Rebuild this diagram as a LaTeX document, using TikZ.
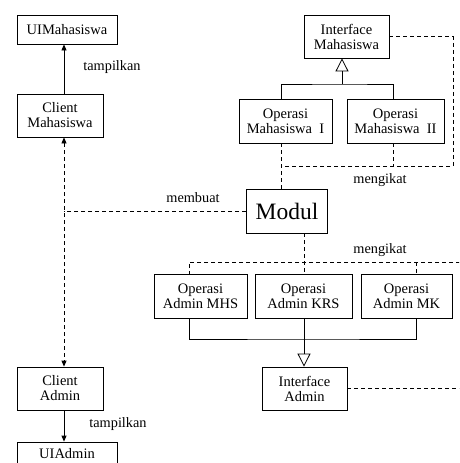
\documentclass[tikz,border=0pt]{standalone}
\usepackage{fontspec}
\setmainfont{Liberation Serif}
\usetikzlibrary{arrows.meta}
\tikzset{
  box/.style={draw, line width=0.8pt, align=center, inner sep=0pt,
    font=\fontsize{14.5}{15}\selectfont},
  lbl/.style={font=\fontsize{14.3}{15}\selectfont},
  dashline/.style={line width=0.8pt, dash pattern=on 4pt off 3pt},
  solidline/.style={line width=0.8pt},
  inherit/.style={-{Triangle[open,length=13pt,width=13pt]}},
  usearrow/.style={-{Triangle[length=6pt,width=5pt]}}
}
\begin{document}
\begin{tikzpicture}[x=1pt,y=-1pt]
      \clip (0,0) rectangle (459,463);
      \fill[white] (0,0) rectangle (459,463);
      \node[box, minimum width=100, minimum height=29] (uimhs) at (67,29.5) {UIMahasiswa};
      \node[box, minimum width=86, minimum height=43] (cmhs) at (60,115.5) {Client\\Mahasiswa};
      \node[box, minimum width=85, minimum height=43] (imhs) at (346.5,36.5) {Interface\\Mahasiswa};
      \node[box, minimum width=93, minimum height=44] (omhs1) at (285.5,121) {Operasi\\Mahasiswa\ \ I};
      \node[box, minimum width=97, minimum height=44] (omhs2) at (395.5,121) {Operasi\\Mahasiswa\ \ II};
      \node[box, minimum width=81, minimum height=44, font=\fontsize{23.5}{26}\selectfont] (modul) at (287,211) {Modul};
      \node[box, minimum width=93, minimum height=44] (oamhs) at (200.5,296) {Operasi\\Admin MHS};
      \node[box, minimum width=97, minimum height=44] (oakrs) at (303.5,296) {Operasi\\Admin KRS};
      \node[box, minimum width=91, minimum height=44] (oamk) at (406.5,296) {Operasi\\Admin MK};
      \node[box, minimum width=85, minimum height=43] (iadmin) at (304.5,388.5) {Interface\\Admin};
      \node[box, minimum width=86, minimum height=43] (cadmin) at (60,388.5) {Client\\Admin};
      \node[box, minimum width=100, minimum height=23] (uiadmin) at (67,453.5) {UIAdmin};

      \node[lbl] (tmhs) at (112,67) {tampilkan};
      \node[lbl] (tadmin) at (118,424) {tampilkan};
      \node[lbl] (membuat) at (193,198) {membuat};
      \node[lbl] (ikat1) at (380,180) {mengikat};
      \node[lbl] (ikat2) at (380,250) {mengikat};

      \coordinate (xl) at (64,0);
      \coordinate (x1) at (281,0);
      \coordinate (x2) at (393,0);
      \coordinate (x3) at (342,84);
      \coordinate (x4) at (304,0);
      \coordinate (x5) at (189,0);
      \coordinate (x6) at (416,0);
      \coordinate (k1) at (453,166);
      \coordinate (k2) at (470,262);
      \coordinate (k3) at (304,339);
      \begin{scope}[solidline]
        \draw[usearrow] (cmhs.north -| xl) to (uimhs.south -| xl);
        \draw[usearrow] (cadmin.south -| xl) to (uiadmin.north -| xl);
        \draw (omhs1.north -| x1) |- (x3) -| (omhs2.north -| x2);
        \draw[inherit] (x3) to (imhs.south -| x3);
        \draw (oamhs.south -| x5) |- (k3) -| (oamk.south -| x6);
        \draw[inherit] (oakrs.south -| x4) to (iadmin.north -| x4);
      \end{scope}
      \begin{scope}[dashline]
        \draw[{Triangle[length=6pt,width=5pt]}-{Triangle[length=6pt,width=5pt]}] (cmhs.south -| xl) to (cadmin.north -| xl);
        \draw (modul.west) to (modul.west -| xl);
        \draw (imhs.east) -| (k1) to (k1 -| x1);
        \draw (omhs2.south -| x2) to (k1 -| x2);
        \draw (omhs1.south -| x1) to (modul.north -| x1);
        \draw (modul.south -| x4) to (oakrs.north -| x4);
        \draw (iadmin.east) -| (k2) to (k2 -| x5) to (oamhs.north -| x5);
        \draw (k2 -| x6) to (oamk.north -| x6);
      \end{scope}
    \end{tikzpicture}
\end{document}
